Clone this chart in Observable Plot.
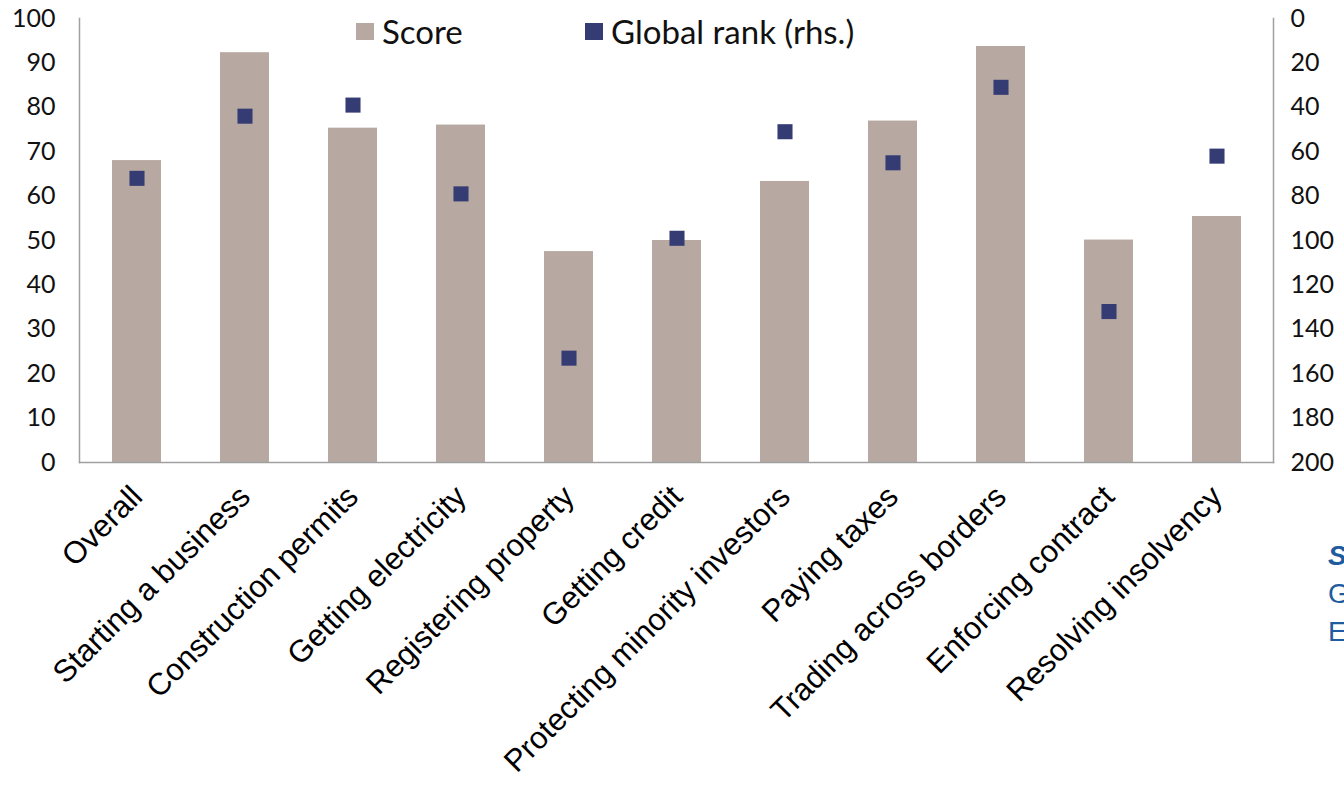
<!DOCTYPE html>
<html>
<head>
<meta charset="utf-8">
<script src="https://cdn.jsdelivr.net/npm/d3@7"></script>
<script src="https://cdn.jsdelivr.net/npm/@observablehq/plot@0.6"></script>
<style>
  html, body { margin: 0; padding: 0; background: #fff; overflow: hidden; }
  #wrap { position: relative; width: 1344px; height: 786px; overflow: hidden; }
  .legend { position: absolute; top: 11px; font-family: Lato, sans-serif; font-size: 33px; color: #111; display: flex; align-items: center; white-space: nowrap; }
  .sw { display: inline-block; width: 18px; height: 17px; margin-right: 8px; }
  .source { position: absolute; left: 1328px; top: 537px; font-family: "Liberation Sans", Arial, sans-serif; color: #1f5c9e; font-size: 28px; line-height: 38px; white-space: nowrap; }
</style>
</head>
<body>
<div id="wrap">
  <div id="chart"></div>
  <div class="legend" style="left:356px"><span class="sw" style="background:#b7a9a2"></span>Score</div>
  <div class="legend" style="left:585px"><span class="sw" style="background:#343c73"></span>Global rank (rhs.)</div>
  <div class="source"><b><i>Source:</i></b><br>Global Economy<br>Estimates</div>
</div>
<script>
const categories = ["Overall", "Starting a business", "Construction permits", "Getting electricity",
  "Registering property", "Getting credit", "Protecting minority investors", "Paying taxes",
  "Trading across borders", "Enforcing contract", "Resolving insolvency"];
const scores = [68.0, 92.3, 75.3, 76.0, 47.5, 50.0, 63.3, 76.9, 93.7, 50.1, 55.4];
const ranks = [72, 44, 39, 79, 153, 99, 51, 65, 31, 132, 62];
const leftTicks = [0, 10, 20, 30, 40, 50, 60, 70, 80, 90, 100];
const rankMax = 200;

const data = categories.map((c, i) => ({category: c, score: scores[i], rank: ranks[i]}));

const chart = Plot.plot({
  width: 1344,
  height: 786,
  marginLeft: 79,
  marginRight: 71,
  marginTop: 18,
  marginBottom: 324,
  style: {fontFamily: "Lato, sans-serif", background: "#fff", overflow: "visible"},
  x: {domain: categories, paddingInner: 0.55, paddingOuter: 0.275, label: null},
  y: {domain: [0, 100], label: null},
  marks: [
    Plot.barY(data, {x: "category", y: "score", fill: "#b7a9a2"}),
    Plot.dot(data, {x: "category", y: d => (rankMax - d.rank) / 2, symbol: "square", r: 8.5, fill: "#343c73", stroke: "none"}),
    Plot.frame({anchor: "left", stroke: "#a0a0a0", strokeWidth: 1.5}),
    Plot.frame({anchor: "right", stroke: "#a0a0a0", strokeWidth: 1.5}),
    Plot.frame({anchor: "bottom", stroke: "#a0a0a0", strokeWidth: 1.5}),
    Plot.axisY({anchor: "left", ticks: leftTicks, tickSize: 0, tickPadding: 24, fontSize: 25, label: null, fill: "#111"}),
    Plot.axisY({anchor: "right", ticks: leftTicks, tickFormat: d => rankMax - 2 * d, tickSize: 0, tickPadding: 17, fontSize: 25, label: null, fill: "#111"}),
    Plot.axisX({tickRotate: -45, tickSize: 0, tickPadding: 29, fontSize: 31, fontFamily: "'Liberation Sans', Arial, sans-serif", label: null, fill: "#000"})
  ]
});
document.getElementById("chart").appendChild(chart);
</script>
</body>
</html>
